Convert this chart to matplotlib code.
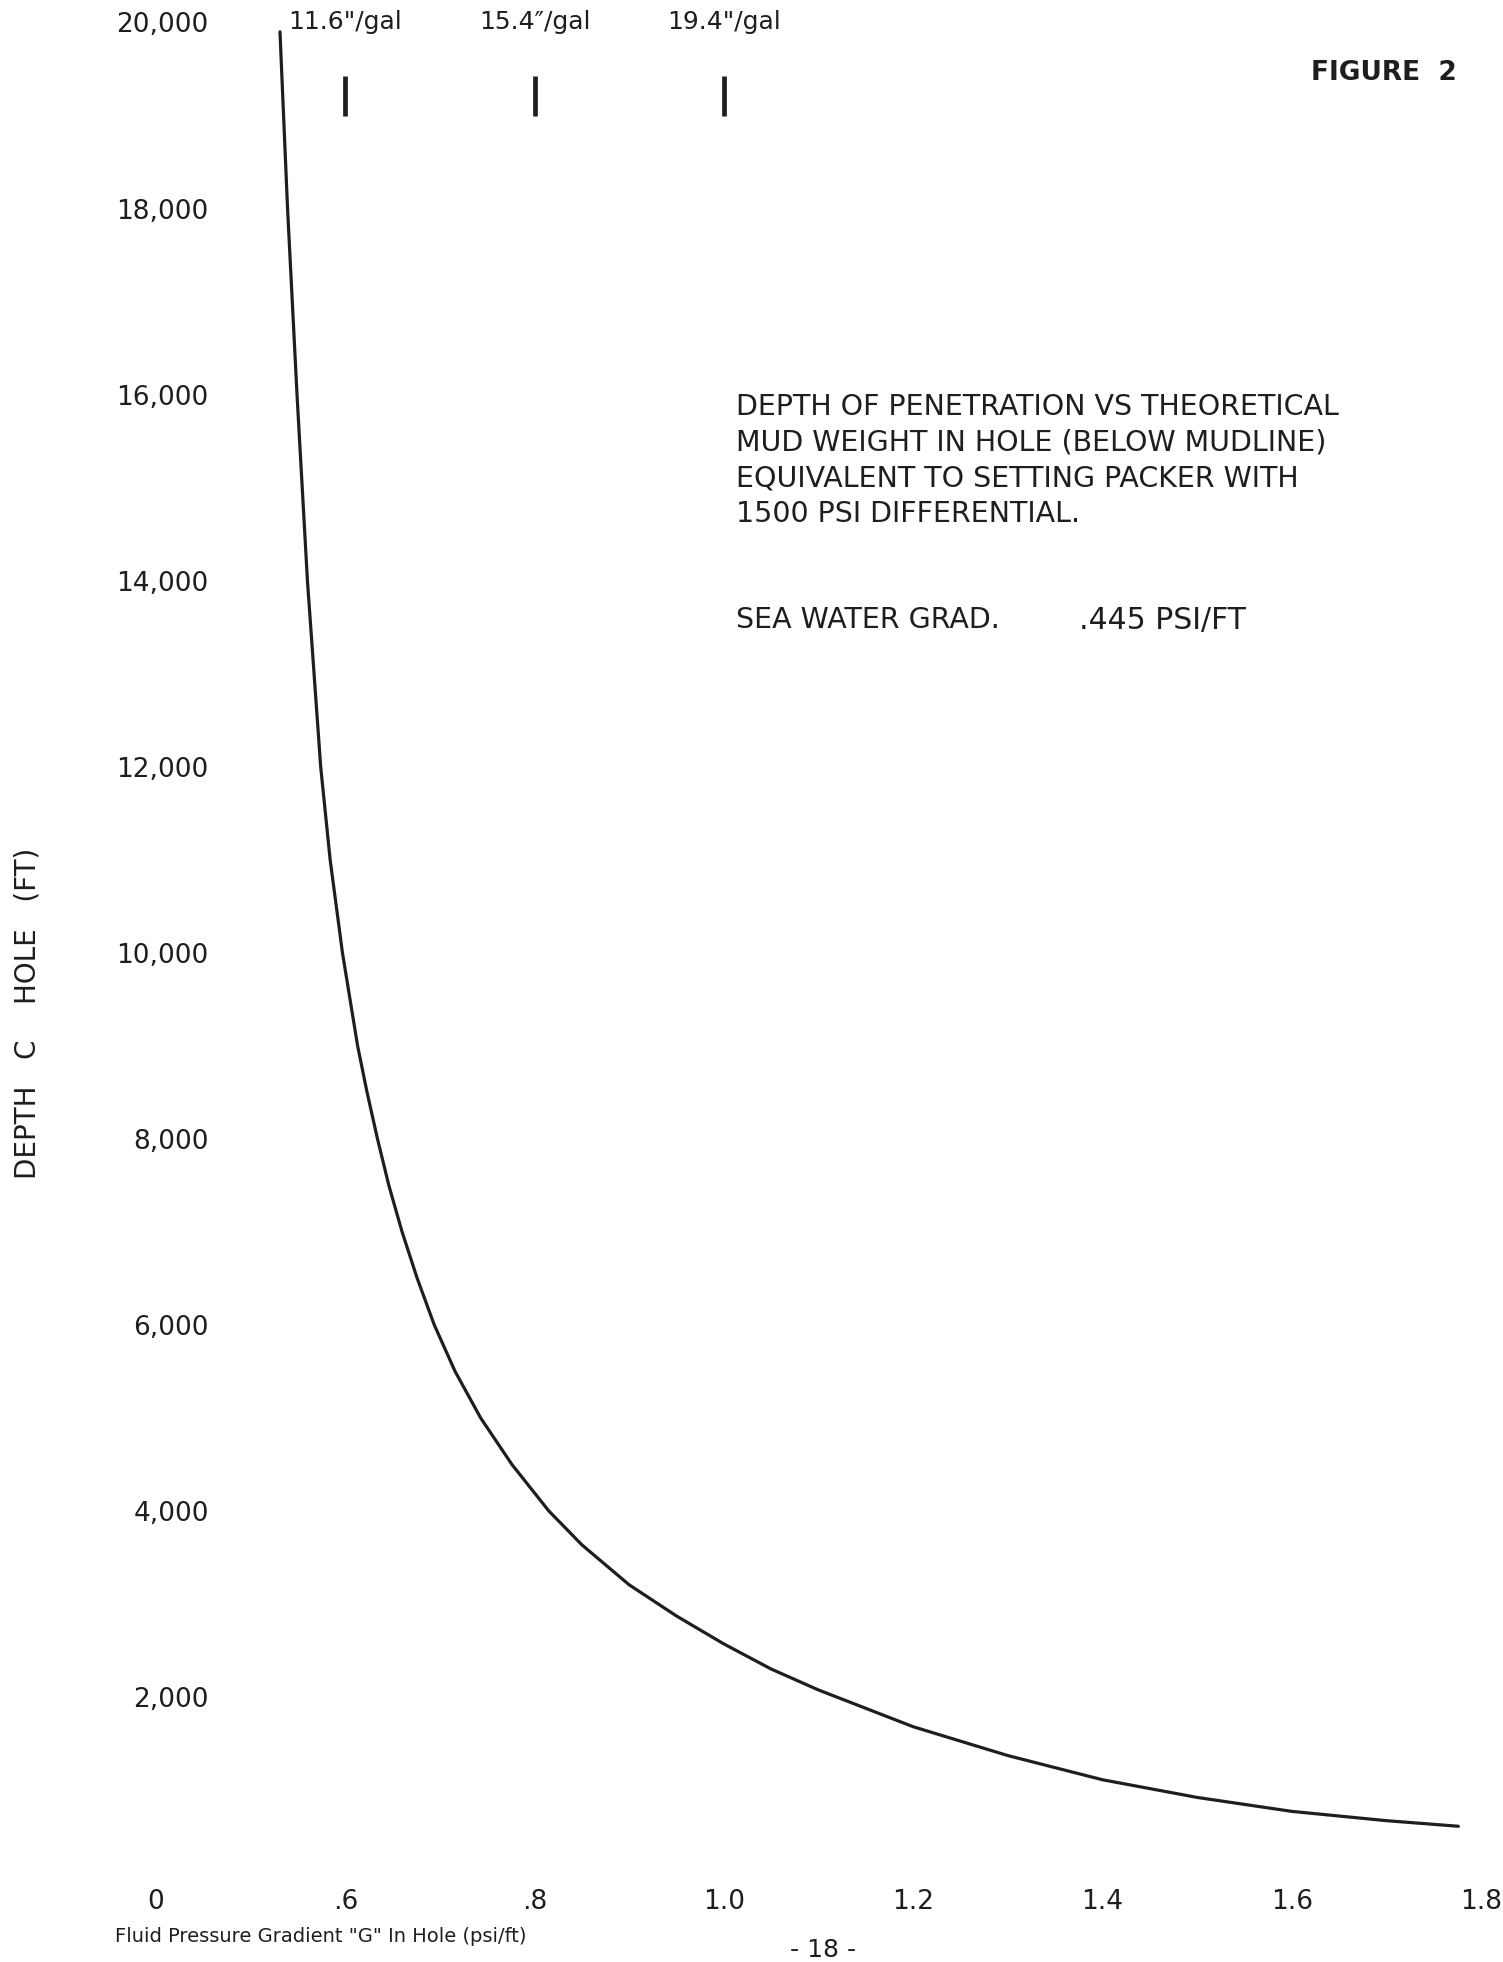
import matplotlib
matplotlib.use("Agg")
import matplotlib.pyplot as plt

# depth of penetration (ft) vs fluid pressure gradient in hole (psi/ft)
gradient = [0.531, 0.539, 0.549, 0.560, 0.574, 0.584, 0.597, 0.605, 0.613, 0.623,
            0.634, 0.646, 0.660, 0.676, 0.694, 0.716, 0.743, 0.776, 0.815, 0.850,
            0.900, 0.950, 1.000, 1.050, 1.100, 1.200, 1.300, 1.400, 1.500, 1.600,
            1.700, 1.776]
depth = [19900, 18000, 16000, 14000, 12000, 11000, 10000, 9500, 9000, 8500,
         8000, 7500, 7000, 6500, 6000, 5500, 5000, 4500, 4000, 3635,
         3205, 2870, 2570, 2300, 2075, 1680, 1370, 1110, 920, 770,
         670, 610]

xtick_values = [0.4, 0.6, 0.8, 1.0, 1.2, 1.4, 1.6, 1.8]
xtick_labels = ["0", ".6", ".8", "1.0", "1.2", "1.4", "1.6", "1.8"]
ytick_values = [2000, 4000, 6000, 8000, 10000, 12000, 14000, 16000, 18000, 20000]
ytick_labels = ["2,000", "4,000", "6,000", "8,000", "10,000", "12,000",
                "14,000", "16,000", "18,000", "20,000"]

# mud weight marks along the top
mud_gradients = [0.6, 0.8, 1.0]
mud_labels = ['11.6"/gal', '15.4\u2033/gal', '19.4"/gal']

note_lines = ["DEPTH OF PENETRATION VS THEORETICAL",
              "MUD WEIGHT IN HOLE (BELOW MUDLINE)",
              "EQUIVALENT TO SETTING PACKER WITH",
              "1500 PSI DIFFERENTIAL."]

ink = "#1e1e1e"
plt.rcParams["font.family"] = ["DejaVu Sans"]

W, H = 1503, 1962
fig = plt.figure(figsize=(W / 100, H / 100), dpi=100)
ax = fig.add_axes([156 / W, 1 - 1883 / H, (1481 - 156) / W, (1883 - 22.5) / H])

ax.plot(gradient, depth, color=ink, linewidth=2.3, solid_capstyle="round",
        solid_joinstyle="round")
ax.vlines(mud_gradients, 19000, 19420, color=ink, linewidth=3.4)
for g, lab in zip(mud_gradients, mud_labels):
    ax.text(g, 20000, lab, ha="center", va="center", fontsize=18, color=ink)

ax.set_xlim(0.4, 1.8)
ax.set_ylim(0, 20000)
ax.set_xticks(xtick_values)
ax.set_xticklabels(xtick_labels)
ax.set_yticks(ytick_values)
ax.set_yticklabels(ytick_labels)
ax.tick_params(axis="x", length=0, pad=4, labelsize=19, labelcolor=ink)
ax.tick_params(axis="y", length=0, pad=-38, labelsize=19, labelcolor=ink)
for s in ax.spines.values():
    s.set_visible(False)

for i, line in enumerate(note_lines):
    fig.text(736 / W, 1 - (407 + i * 35.8) / H, line, ha="left", va="center",
             fontsize=20.5, color=ink)
fig.text(736 / W, 1 - 620 / H, "SEA WATER GRAD.", ha="left", va="center",
         fontsize=20.5, color=ink)
fig.text(1079 / W, 1 - 620 / H, ".445 PSI/FT", ha="left", va="center",
         fontsize=21.5, color=ink)
fig.text(1311 / W, 1 - 73 / H, "FIGURE  2", ha="left", va="center",
         fontsize=19, fontweight="bold", color=ink)

fig.text(28 / W, 1 - 1013 / H, "DEPTH   C    HOLE   (FT)", rotation=90,
         ha="center", va="center", fontsize=20, color=ink)
fig.text(115 / W, 1 - 1937 / H, 'Fluid Pressure Gradient "G" In Hole (psi/ft)',
         ha="left", va="center", fontsize=14, color=ink)
fig.text(823 / W, 1 - 1950 / H, "- 18 -", ha="center", va="center",
         fontsize=18, color=ink)

fig.savefig("out.png", dpi=100, facecolor="white")
